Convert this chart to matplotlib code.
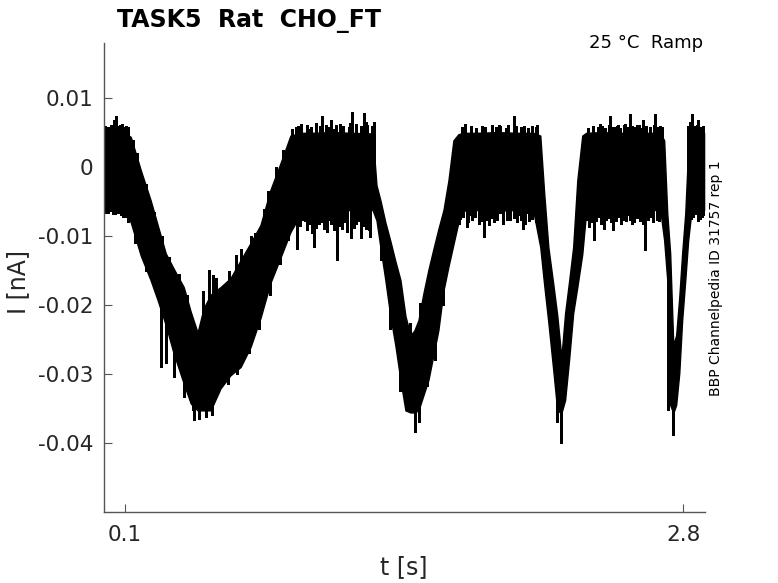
import numpy as np
import matplotlib
matplotlib.use("Agg")
import matplotlib.pyplot as plt

plt.rcParams['font.family'] = ['DejaVu Sans']
plt.rcParams['axes.unicode_minus'] = False

# ---- data ----
# dense noise band of the current trace: time [s], upper and lower edge [nA]
t_core = [0.000, 0.040, 0.080, 0.110,
          0.128, 0.176, 0.224, 0.258, 0.297, 0.335, 0.384, 0.418, 0.451, 0.480,
          0.514, 0.562, 0.610, 0.659, 0.707, 0.755, 0.803, 0.852, 0.900, 0.949,
          1.000, 1.100, 1.200, 1.297,
          1.316, 1.335, 1.359, 1.383, 1.407, 1.432, 1.456, 1.480, 1.499, 1.519,
          1.543, 1.567, 1.591, 1.615, 1.640, 1.664, 1.688, 1.712, 1.736,
          1.800, 1.900, 2.000, 2.074,
          2.108, 2.127, 2.147, 2.171, 2.190, 2.210, 2.228, 2.248, 2.267, 2.287, 2.311, 2.330,
          2.400, 2.500, 2.600, 2.688,
          2.707, 2.722, 2.736, 2.751, 2.765, 2.780, 2.794, 2.809, 2.823, 2.838,
          2.870, 2.900]
upper_core = [0.0049, 0.0050, 0.0050, 0.0048,
              0.0044, -0.0004, -0.0048, -0.0084, -0.0125, -0.0147, -0.0174, -0.0210, -0.0240, -0.0205,
              -0.0185, -0.0174, -0.0161, -0.0135, -0.0110, -0.0084, -0.0033, 0.0006, 0.0046, 0.0050,
              0.0050, 0.0051, 0.0050, 0.0049,
              -0.0026, -0.0048, -0.0080, -0.0107, -0.0136, -0.0164, -0.0216, -0.0244, -0.0237, -0.0222,
              -0.0183, -0.0149, -0.0119, -0.0090, -0.0062, -0.0019, 0.0039, 0.0048, 0.0050,
              0.0050, 0.0051, 0.0050, 0.0050,
              0.0046, -0.0038, -0.0116, -0.0170, -0.0215, -0.0276, -0.0212, -0.0164, -0.0116, -0.0019, 0.0046, 0.0050,
              0.0051, 0.0050, 0.0050, 0.0050,
              0.0039, -0.0067, -0.0125, -0.0258, -0.0244, -0.0189, -0.0125, -0.0067, 0.0025, 0.0048,
              0.0050, 0.0050]
lower_core = [-0.0055, -0.0058, -0.0062, -0.0068,
              -0.0080, -0.0128, -0.0164, -0.0193, -0.0229, -0.0270, -0.0314, -0.0343, -0.0353, -0.0353,
              -0.0353, -0.0321, -0.0302, -0.0290, -0.0261, -0.0219, -0.0168, -0.0131, -0.0094, -0.0068,
              -0.0062, -0.0063, -0.0062, -0.0062,
              -0.0077, -0.0116, -0.0164, -0.0216, -0.0258, -0.0309, -0.0353, -0.0356, -0.0356, -0.0353,
              -0.0331, -0.0309, -0.0273, -0.0237, -0.0179, -0.0144, -0.0112, -0.0080, -0.0063,
              -0.0062, -0.0063, -0.0062, -0.0063,
              -0.0116, -0.0171, -0.0225, -0.0295, -0.0353, -0.0357, -0.0338, -0.0277, -0.0212, -0.0174, -0.0126, -0.0064,
              -0.0062, -0.0063, -0.0062, -0.0062,
              -0.0106, -0.0164, -0.0345, -0.0357, -0.0345, -0.0299, -0.0222, -0.0164, -0.0106, -0.0066,
              -0.0062, -0.0062]

# upward noise spikes (time [s], peak [nA])
t_up = [0.005, 0.016, 0.022, 0.030, 0.045, 0.055, 0.062, 0.070, 0.078, 0.085, 0.093, 0.100, 0.106, 0.113,
        0.140, 0.160, 0.200, 0.240, 0.280, 0.315, 0.360, 0.400,
        0.475, 0.505, 0.524, 0.538, 0.601, 0.635, 0.659, 0.707, 0.731, 0.770, 0.790, 0.830, 0.862,
        0.909, 0.925, 0.935, 0.949, 0.978, 0.989, 1.000, 1.022, 1.042, 1.054, 1.070, 1.082, 1.094,
        1.110, 1.120, 1.142, 1.155, 1.182, 1.190, 1.199, 1.215, 1.243, 1.255, 1.263, 1.271, 1.295, 1.303,
        1.478, 1.528, 1.585, 1.633,
        1.730, 1.746, 1.775, 1.795, 1.826, 1.842, 1.875, 1.895, 1.907, 1.915, 1.940, 1.950,
        1.979, 1.990, 2.015, 2.030, 2.050, 2.070, 2.085, 2.092,
        2.340, 2.362, 2.386, 2.398, 2.406, 2.422, 2.438, 2.446, 2.458, 2.470, 2.478, 2.486, 2.495,
        2.511, 2.519, 2.530, 2.543, 2.551, 2.567, 2.575, 2.583, 2.599, 2.607, 2.620, 2.640, 2.656,
        2.664, 2.672, 2.688, 2.696,
        2.823, 2.830, 2.841, 2.848, 2.855, 2.865, 2.873, 2.882, 2.897]
v_up = [0.0060, 0.0058, 0.0057, 0.0062, 0.0068, 0.0075, 0.0058, 0.0060, 0.0062, 0.0063, 0.0058, 0.0056, 0.0060, 0.0058,
        0.0040, 0.0020, -0.0025, -0.0065, -0.0100, -0.0130, -0.0155, -0.0185,
        -0.0179, -0.0149, -0.0157, -0.0161, -0.0150, -0.0128, -0.0118, -0.0100, -0.0095, -0.0060, -0.0035, 0.0000, 0.0025,
        0.0056, 0.0058, 0.0060, 0.0063, 0.0062, 0.0056, 0.0058, 0.0064, 0.0060, 0.0075, 0.0061, 0.0058, 0.0068,
        0.0056, 0.0062, 0.0063, 0.0060, 0.0058, 0.0064, 0.0080, 0.0063, 0.0060, 0.0079, 0.0066, 0.0061, 0.0060, 0.0066,
        -0.0226, -0.0197, -0.0149, -0.0081,
        0.0058, 0.0063, 0.0060, 0.0057, 0.0060, 0.0058, 0.0062, 0.0058, 0.0061, 0.0060, 0.0057, 0.0062,
        0.0075, 0.0060, 0.0058, 0.0060, 0.0057, 0.0060, 0.0058, 0.0061,
        0.0057, 0.0060, 0.0058, 0.0063, 0.0060, 0.0057, 0.0062, 0.0075, 0.0058, 0.0058, 0.0060, 0.0061, 0.0057,
        0.0062, 0.0063, 0.0058, 0.0077, 0.0060, 0.0058, 0.0061, 0.0062, 0.0057, 0.0068, 0.0060, 0.0058, 0.0062,
        0.0078, 0.0058, 0.0060, 0.0058,
        0.0060, 0.0065, 0.0078, 0.0058, 0.0060, 0.0062, 0.0068, 0.0058, 0.0060]

# downward noise spikes (time [s], trough [nA])
t_dn = [0.004, 0.010, 0.018, 0.025, 0.033, 0.040, 0.050, 0.058, 0.065, 0.080, 0.090, 0.100, 0.113,
        0.150, 0.200, 0.272, 0.297, 0.335, 0.384, 0.427, 0.432, 0.460, 0.490, 0.520,
        0.596, 0.640, 0.700, 0.750, 0.800, 0.850, 0.890,
        0.909, 0.920, 0.933, 0.945, 0.957, 0.970, 0.981, 0.995, 1.005, 1.013, 1.025, 1.037, 1.050,
        1.062, 1.075, 1.086, 1.098, 1.110, 1.126, 1.138, 1.150, 1.162, 1.174, 1.191, 1.205, 1.215,
        1.227, 1.239, 1.250, 1.263, 1.271, 1.279, 1.287,
        1.340, 1.380, 1.430, 1.504, 1.520, 1.560, 1.600, 1.640,
        1.714, 1.722, 1.736, 1.752, 1.760, 1.770, 1.780, 1.790, 1.810, 1.822, 1.834, 1.850, 1.860,
        1.874, 1.885, 1.899, 1.915, 1.930, 1.947, 1.960, 1.980, 1.995, 2.005, 2.015, 2.026, 2.035,
        2.045, 2.052, 2.060, 2.070, 2.085,
        2.190, 2.210,
        2.326, 2.334, 2.342, 2.354, 2.366, 2.378, 2.390, 2.402, 2.414, 2.426, 2.438, 2.450, 2.462,
        2.474, 2.486, 2.498, 2.511, 2.523, 2.535, 2.543, 2.551, 2.563, 2.575, 2.588, 2.600, 2.607,
        2.615, 2.628, 2.640, 2.655, 2.672, 2.684,
        2.725, 2.751,
        2.817, 2.826, 2.835, 2.846, 2.860, 2.870, 2.880, 2.889, 2.897]
v_dn = [-0.0062, -0.0066, -0.0066, -0.0062, -0.0064, -0.0068, -0.0068, -0.0066, -0.0066, -0.0070, -0.0072, -0.0072, -0.0080,
        -0.0110, -0.0150, -0.0290, -0.0284, -0.0305, -0.0334, -0.0353, -0.0367, -0.0365, -0.0362, -0.0360,
        -0.0314, -0.0300, -0.0270, -0.0235, -0.0185, -0.0140, -0.0105,
        -0.0087, -0.0080, -0.0118, -0.0085, -0.0077, -0.0078, -0.0091, -0.0082, -0.0096, -0.0116, -0.0088, -0.0082, -0.0080,
        -0.0089, -0.0094, -0.0077, -0.0082, -0.0091, -0.0135, -0.0085, -0.0089, -0.0080, -0.0094, -0.0103, -0.0088, -0.0082,
        -0.0078, -0.0103, -0.0085, -0.0089, -0.0080, -0.0091, -0.0101,
        -0.0135, -0.0235, -0.0325, -0.0385, -0.0370, -0.0318, -0.0280, -0.0200,
        -0.0082, -0.0075, -0.0072, -0.0087, -0.0080, -0.0070, -0.0076, -0.0072, -0.0082, -0.0078, -0.0101, -0.0077, -0.0084,
        -0.0074, -0.0079, -0.0077, -0.0067, -0.0082, -0.0077, -0.0076, -0.0074, -0.0080, -0.0070, -0.0076, -0.0089, -0.0082,
        -0.0067, -0.0078, -0.0072, -0.0075, -0.0080,
        -0.0370, -0.0401,
        -0.0077, -0.0076, -0.0087, -0.0080, -0.0106, -0.0078, -0.0072, -0.0082, -0.0089, -0.0076, -0.0074, -0.0080, -0.0091,
        -0.0078, -0.0072, -0.0082, -0.0077, -0.0078, -0.0070, -0.0076, -0.0082, -0.0080, -0.0074, -0.0078, -0.0072, -0.0082,
        -0.0120, -0.0076, -0.0072, -0.0080, -0.0077, -0.0078,
        -0.0353, -0.0389,
        -0.0070, -0.0078, -0.0075, -0.0072, -0.0068, -0.0078, -0.0075, -0.0072, -0.0070]

x_ticks = [0.1, 2.8]
x_ticklabels = ['0.1', '2.8']
y_ticks = [-0.04, -0.03, -0.02, -0.01, 0.0, 0.01]
y_ticklabels = ['-0.04', '-0.03', '-0.02', '-0.01', '0', '0.01']

# ---- figure ----
W, H = 778, 583
fig = plt.figure(figsize=(W / 100, H / 100), dpi=100)
ax = fig.add_axes([104.3 / W, 1 - 512.3 / H, (704.7 - 104.3) / W, (512.3 - 43.3) / H])

tc = np.array(t_core)
up = np.array(upper_core)
lo = np.array(lower_core)
ax.fill_between(tc, lo, up, color='black', linewidth=1.0, edgecolor='black')
mid = (up + lo) / 2
ax.vlines(t_up, np.interp(t_up, tc, mid), v_up, color='black', linewidth=1.0, antialiased=False)
ax.vlines(t_dn, np.interp(t_dn, tc, mid), v_dn, color='black', linewidth=1.0, antialiased=False)

ax.set_xlim(0.0, 2.903)
ax.set_ylim(-0.0501, 0.0180)
ax.set_xticks(x_ticks)
ax.set_xticklabels(x_ticklabels)
ax.set_yticks(y_ticks)
ax.set_yticklabels(y_ticklabels)

gray = '#262626'
for s in ['top', 'right']:
    ax.spines[s].set_visible(False)
for s in ['left', 'bottom']:
    ax.spines[s].set_color('#555555')
    ax.spines[s].set_linewidth(1.0)
ax.tick_params(direction='in', length=6, width=0.8, color='#555555',
               labelcolor=gray, labelsize=15.5)
ax.tick_params(axis='x', pad=9)
ax.tick_params(axis='y', pad=8)

fig.text(404 / W, 1 - 567 / H, 't [s]', ha='center', va='center', fontsize=17, color=gray)
fig.text(18 / W, 1 - 282 / H, 'I [nA]', ha='center', va='center', rotation=90, fontsize=17, color=gray)
fig.text(117 / W, 1 - 27 / H, 'TASK5  Rat  CHO_FT', ha='left', va='baseline',
         fontsize=17, fontweight='bold', color='black')
fig.text(703 / W, 1 - 48 / H, '25 °C  Ramp', ha='right', va='baseline', fontsize=13, color='black')
fig.text(716 / W, 1 - 278 / H, 'BBP Channelpedia ID 31757 rep 1', ha='center', va='center',
         rotation=90, fontsize=10, color='black')

fig.savefig('out.png', dpi=100)
